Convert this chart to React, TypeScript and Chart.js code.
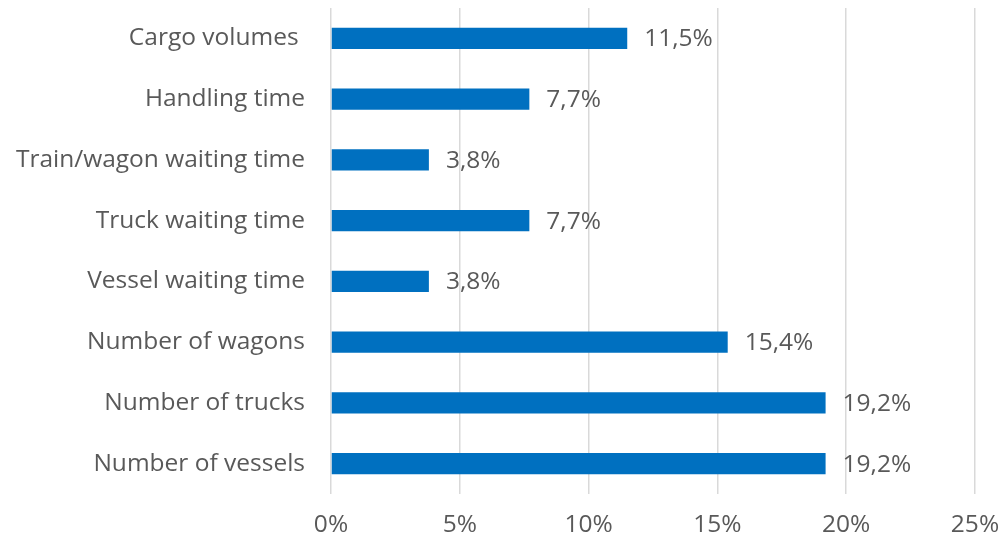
import React, { useEffect, useRef } from "react";
import { Chart, registerables } from "chart.js";

Chart.register(...registerables);

const categories = [
  "Cargo volumes ",
  "Handling time",
  "Train/wagon waiting time",
  "Truck waiting time",
  "Vessel waiting time",
  "Number of wagons",
  "Number of trucks",
  "Number of vessels",
];
const values = [11.5, 7.7, 3.8, 7.7, 3.8, 15.4, 19.2, 19.2];
const xTicks = [0, 5, 10, 15, 20, 25];

const FONT = "'Open Sans', sans-serif";
const TEXT = "#595959";
const SIZE = 24.5;

const valueLabels = {
  id: "valueLabels",
  afterDatasetsDraw(chart: any) {
    const ctx = chart.ctx;
    const meta = chart.getDatasetMeta(0);
    ctx.save();
    ctx.font = `${SIZE}px ${FONT}`;
    ctx.fillStyle = TEXT;
    ctx.textAlign = "left";
    ctx.textBaseline = "middle";
    meta.data.forEach((bar: any, i: number) => {
      const txt = values[i].toFixed(1).replace(".", ",") + "%";
      ctx.fillText(txt, bar.x + 17, bar.y + 1);
    });
    ctx.restore();
  },
};

const zeroPad = (s: any) => {
  s.paddingTop = 0;
  s.paddingBottom = 0;
  s.paddingLeft = 0;
  s.paddingRight = 0;
};

export default function App() {
  const ref = useRef<HTMLCanvasElement>(null);
  useEffect(() => {
    document.body.style.margin = "0";
    const chart = new Chart(ref.current!, {
      type: "bar",
      data: {
        labels: categories,
        datasets: [
          {
            data: values,
            backgroundColor: "#0070C0",
            barPercentage: 0.35,
            categoryPercentage: 1,
          },
        ],
      },
      plugins: [valueLabels],
      options: {
        indexAxis: "y",
        animation: false,
        responsive: false,
        layout: { padding: { top: 8, right: 27, left: 0, bottom: 0 } },
        plugins: { legend: { display: false }, tooltip: { enabled: false } },
        scales: {
          x: {
            min: 0,
            max: 25,
            afterBuildTicks: (s: any) => {
              s.ticks = xTicks.map((v) => ({ value: v }));
            },
            afterFit: (s: any) => {
              s.height = 51;
              zeroPad(s);
            },
            grid: { color: "#D9D9D9", lineWidth: 1.5, drawTicks: false },
            border: { display: false },
            ticks: {
              padding: 16,
              color: TEXT,
              font: { family: FONT, size: SIZE },
              callback: (v: any) => v + "%",
            },
          },
          y: {
            afterFit: (s: any) => {
              s.width = 331;
              zeroPad(s);
            },
            grid: { display: false },
            border: { display: false },
            ticks: {
              padding: 18,
              color: TEXT,
              font: { family: FONT, size: SIZE },
            },
          },
        },
      },
    });
    return () => chart.destroy();
  }, []);
  return <canvas ref={ref} width={1002} height={545} style={{ display: "block" }} />;
}
